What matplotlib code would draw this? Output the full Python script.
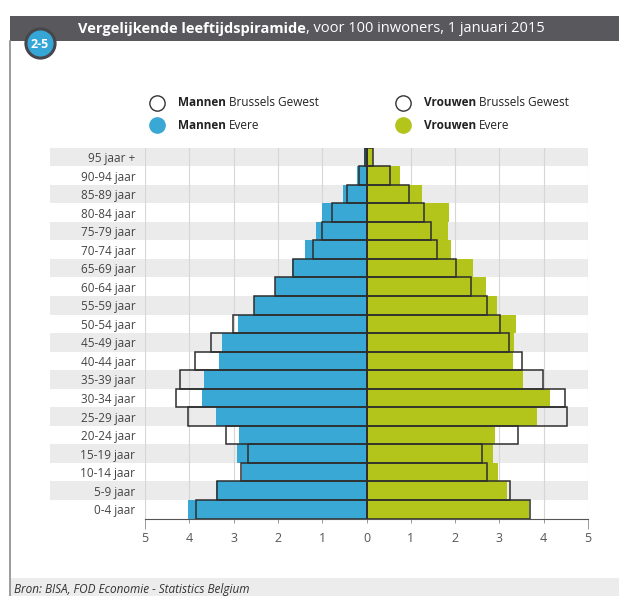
import matplotlib.pyplot as plt
from matplotlib.patches import Rectangle
from matplotlib.lines import Line2D
import numpy as np

plt.rcParams["font.family"] = ["Open Sans", "DejaVu Sans"]

leeftijden = ["0-4 jaar", "5-9 jaar", "10-14 jaar", "15-19 jaar", "20-24 jaar",
              "25-29 jaar", "30-34 jaar", "35-39 jaar", "40-44 jaar", "45-49 jaar",
              "50-54 jaar", "55-59 jaar", "60-64 jaar", "65-69 jaar", "70-74 jaar",
              "75-79 jaar", "80-84 jaar", "85-89 jaar", "90-94 jaar", "95 jaar +"]

mannen_brussel = [3.84, 3.38, 2.84, 2.68, 3.17, 4.03, 4.31, 4.20, 3.87, 3.50,
                  3.01, 2.53, 2.07, 1.67, 1.21, 1.01, 0.77, 0.44, 0.17, 0.04]
mannen_evere = [4.03, 3.39, 2.81, 2.92, 2.87, 3.39, 3.71, 3.67, 3.33, 3.27,
                2.90, 2.54, 2.07, 1.69, 1.39, 1.15, 1.00, 0.52, 0.21, 0.05]
vrouwen_brussel = [3.70, 3.24, 2.72, 2.61, 3.42, 4.53, 4.47, 3.98, 3.51, 3.21,
                   3.01, 2.72, 2.36, 2.03, 1.59, 1.46, 1.29, 0.97, 0.53, 0.15]
vrouwen_evere = [3.66, 3.18, 2.97, 2.86, 2.91, 3.84, 4.15, 3.54, 3.31, 3.33,
                 3.38, 2.95, 2.70, 2.40, 1.90, 1.84, 1.86, 1.26, 0.75, 0.14]

ticks = [-5, -4, -3, -2, -1, 0, 1, 2, 3, 4, 5]

BLAUW = "#3aa8d4"
OLIJF = "#b3c41b"
RAND = "#2e2e2e"
BAND = "#ebebeb"

W, H = 619, 596
fig = plt.figure(figsize=(W / 100, H / 100), dpi=100)
fig.patch.set_facecolor("white")


def fx(px):
    return px / W


def fy(py):
    return 1 - py / H


ax = fig.add_axes([fx(145), fy(518.5), fx(588) - fx(145), fy(147.7) - fy(518.5)])
y = np.arange(len(leeftijden))

# grijze banden, ook achter de labels
for i in y:
    if (len(y) - 1 - i) % 2 == 0:
        ax.add_patch(Rectangle((-7.15, i - 0.5), 12.15, 1, facecolor=BAND,
                               edgecolor="none", zorder=0, clip_on=False))

for t in ticks:
    if t != 0:
        ax.axvline(t, color="#d6d6d6", lw=0.8, zorder=1)

ax.barh(y, -np.array(mannen_evere), height=1.0, color=BLAUW, zorder=2)
ax.barh(y, vrouwen_evere, height=1.0, color=OLIJF, zorder=2)
ax.barh(y, -np.array(mannen_brussel), height=1.0, fill=False, edgecolor=RAND,
        linewidth=1.1, zorder=3)
ax.barh(y, vrouwen_brussel, height=1.0, fill=False, edgecolor=RAND,
        linewidth=1.1, zorder=3)
ax.axvline(0, color=RAND, lw=1.1, zorder=4)

ax.set_xlim(-5, 5)
ax.set_ylim(-0.5, len(y) - 0.5)
ax.set_facecolor("none")
for s in ["top", "right", "left"]:
    ax.spines[s].set_visible(False)
ax.spines["bottom"].set_color("#555555")
ax.spines["bottom"].set_linewidth(0.8)

ax.set_xticks(ticks)
ax.set_xticklabels([str(abs(t)) for t in ticks], fontsize=9, color="#555555")
ax.tick_params(axis="x", length=3, width=0.7, color="#999999", pad=7)
for t, tk in zip(ticks, ax.xaxis.get_major_ticks()):
    if abs(t) == 5:
        tk.tick1line.set_markersize(7)
        tk.tick1line.set_color("#444444")

ax.set_yticks(y)
ax.set_yticklabels(leeftijden, fontsize=8.5, color="#444444")
ax.tick_params(axis="y", length=0, pad=7)

# kader, kop en badge
fig.add_artist(Rectangle((fx(10), fy(41)), 1 - fx(10), fy(16) - fy(41),
                         transform=fig.transFigure, facecolor="#58585d",
                         edgecolor="none"))
fig.add_artist(Line2D([fx(10), fx(10)], [fy(41), 0], transform=fig.transFigure,
                      color="#8a8a8a", lw=1.2))
fig.add_artist(Rectangle((fx(11), 0), 1 - fx(11), fy(578),
                         transform=fig.transFigure, facecolor="#ececec",
                         edgecolor="none"))
fig.add_artist(Line2D([fx(40)], [fy(43)], transform=fig.transFigure, marker="o",
                      markersize=21, markerfacecolor="#36a6d6",
                      markeredgecolor="#46464b", markeredgewidth=2.2))
fig.text(fx(40), fy(44), "2-5", color="white", fontsize=9, fontweight="bold",
         ha="center", va="center")

renderer = fig.canvas.get_renderer()


def tweedelig(x, yy, vet, rest, size, color, gap=3):
    t = fig.text(x, yy, vet, fontsize=size, fontweight="bold", color=color,
                 va="center", ha="left")
    bb = t.get_window_extent(renderer=renderer)
    fig.text(bb.x1 / fig.bbox.width + fx(gap), yy, rest, fontsize=size,
             color=color, va="center", ha="left")


tweedelig(fx(78), fy(29), "Vergelijkende leeftijdspiramide",
          ", voor 100 inwoners, 1 januari 2015", 10.5, "white", gap=0.5)

legenda = [
    (157, 103, "white", "Mannen", "Brussels Gewest"),
    (157, 125, BLAUW, "Mannen", "Evere"),
    (403, 103, "white", "Vrouwen", "Brussels Gewest"),
    (403, 125, OLIJF, "Vrouwen", "Evere"),
]
for px, py, kleur, vet, rest in legenda:
    rand = "#333333" if kleur == "white" else kleur
    fig.add_artist(Line2D([fx(px)], [fy(py)], transform=fig.transFigure, marker="o",
                          markersize=11, markerfacecolor=kleur,
                          markeredgecolor=rand, markeredgewidth=1.0))
    tweedelig(fx(px + 21), fy(py), vet, rest, 8.5, "#222222")

fig.text(fx(14), fy(590), "Bron: BISA, FOD Economie - Statistics Belgium",
         fontsize=8.5, style="italic", color="#333333", va="center", ha="left")

fig.savefig("out.png", dpi=100)
